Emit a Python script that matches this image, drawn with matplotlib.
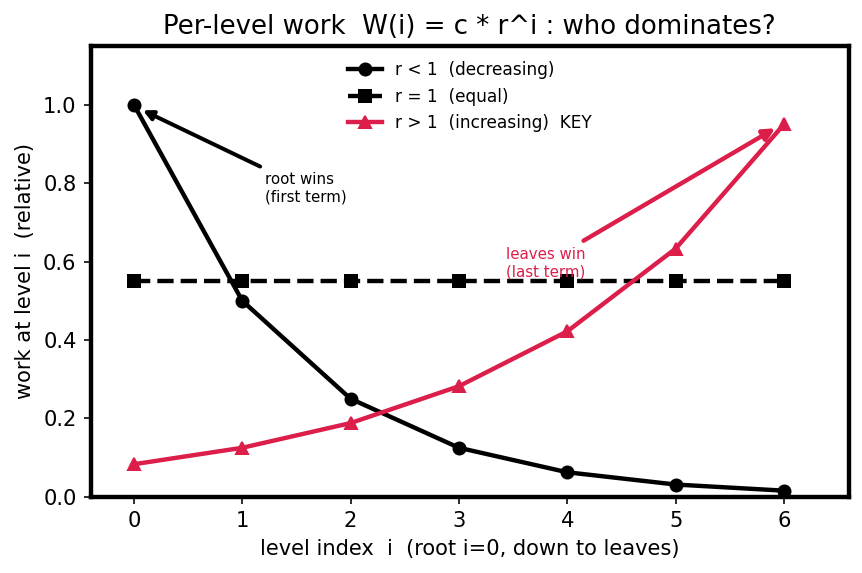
import matplotlib
matplotlib.use('Agg')
import matplotlib.pyplot as plt

levels = [0, 1, 2, 3, 4, 5, 6]
w_decr = [1.0, 0.5, 0.25, 0.125, 0.0625, 0.03125, 0.015625]
w_equal = [0.55, 0.55, 0.55, 0.55, 0.55, 0.55, 0.55]
w_incr = [0.083, 0.125, 0.188, 0.282, 0.422, 0.633, 0.95]

RED = '#DC1E4A'

fig, ax = plt.subplots(figsize=(862/144, 573/144), dpi=144)
ax.plot(levels, w_decr, 'o-', color='black', lw=2.2, ms=6, label='r < 1  (decreasing)')
ax.plot(levels, w_equal, 's--', color='black', lw=2.2, ms=6, label='r = 1  (equal)')
ax.plot(levels, w_incr, '^-', color=RED, lw=2.2, ms=6, label='r > 1  (increasing)  KEY')

ax.annotate('root wins\n(first term)', xy=(0.05, 0.99), xytext=(1.21, 0.745),
            fontsize=7.5, ha='left', va='bottom',
            arrowprops=dict(arrowstyle='-|>', color='black', lw=2, mutation_scale=10))
ax.annotate('leaves win\n(last term)', xy=(5.95, 0.945), xytext=(3.8, 0.555),
            fontsize=7.5, ha='center', va='bottom', color=RED,
            arrowprops=dict(arrowstyle='-|>', color=RED, lw=2.2, mutation_scale=12))

ax.set_xlim(-0.4, 6.6)
ax.set_ylim(0, 1.15)
ax.set_xticks(levels)
ax.set_xlabel('level index  i  (root i=0, down to leaves)', fontsize=10.5)
ax.set_ylabel('work at level i  (relative)', fontsize=10.5)
ax.set_title('Per-level work  W(i) = c * r^i : who dominates?', fontsize=13)
ax.tick_params(labelsize=10.5)
for s in ax.spines.values():
    s.set_linewidth(2.2)
ax.legend(loc='upper center', frameon=False, fontsize=8.5)
fig.subplots_adjust(left=0.105, right=0.985, top=0.92, bottom=0.133)
fig.savefig('out.png', dpi=144)
